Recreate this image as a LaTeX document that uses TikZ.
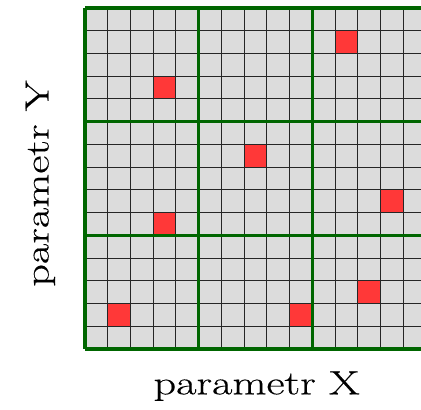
\documentclass[tikz,border=0pt]{standalone}
\usepackage{fontspec}
\newfontfamily\labelfont{Latin Modern Roman}[FakeBold=0.4, FakeStretch=1.32]
\definecolor{cellgray}{RGB}{220,220,220}
\definecolor{gridgreen}{RGB}{0,102,0}
\definecolor{hitred}{RGB}{255,56,56}
\begin{document}
\begin{tikzpicture}[x=1pt,y=-1pt,
    minor/.style={black!85, line width=0.9pt},
    major/.style={gridgreen, line width=3.2pt},
    hit/.style={fill=hitred},
    axislabel/.style={font=\labelfont\fontsize{33.5}{33.5}\selectfont, inner sep=0pt}]
  \useasboundingbox (0,0) rectangle (421,410);
  \def\cs{22.73}
  \def\gx{85}
  \def\gy{8}
  \begin{scope}
    \clip (0,0) rectangle (421,410);
    % background of the 15x15 grid
    \fill[cellgray] (\gx,\gy) rectangle ++({15*\cs},{15*\cs});
    % sampled cells
    \foreach \c/\r in {3/3,11/1,7/6,3/9,13/8,1/13,9/13,12/12}
      \fill[hit] ({\gx+\c*\cs},{\gy+\r*\cs}) rectangle ++(\cs,\cs);
    % fine grid
    \foreach \i in {1,...,14} {
      \draw[minor] ({\gx+\i*\cs},\gy) -- ({\gx+\i*\cs},{\gy+15*\cs});
      \draw[minor] (\gx,{\gy+\i*\cs}) -- ({\gx+15*\cs},{\gy+\i*\cs});
    }
    % coarse 3x3 blocks
    \foreach \i in {0,5,10,15} {
      \draw[major] ({\gx+\i*\cs},\gy) -- ({\gx+\i*\cs},{\gy+15*\cs});
      \draw[major] (\gx,{\gy+\i*\cs}) -- ({\gx+15*\cs},{\gy+\i*\cs});
    }
  \end{scope}
  % axis labels
  \node[axislabel, anchor=base] (xlabel) at (256.7,394.3) {parametr X};
  \node[axislabel, anchor=base, rotate=90] (ylabel) at (48.5,183.5) {parametr Y};
\end{tikzpicture}
\end{document}
